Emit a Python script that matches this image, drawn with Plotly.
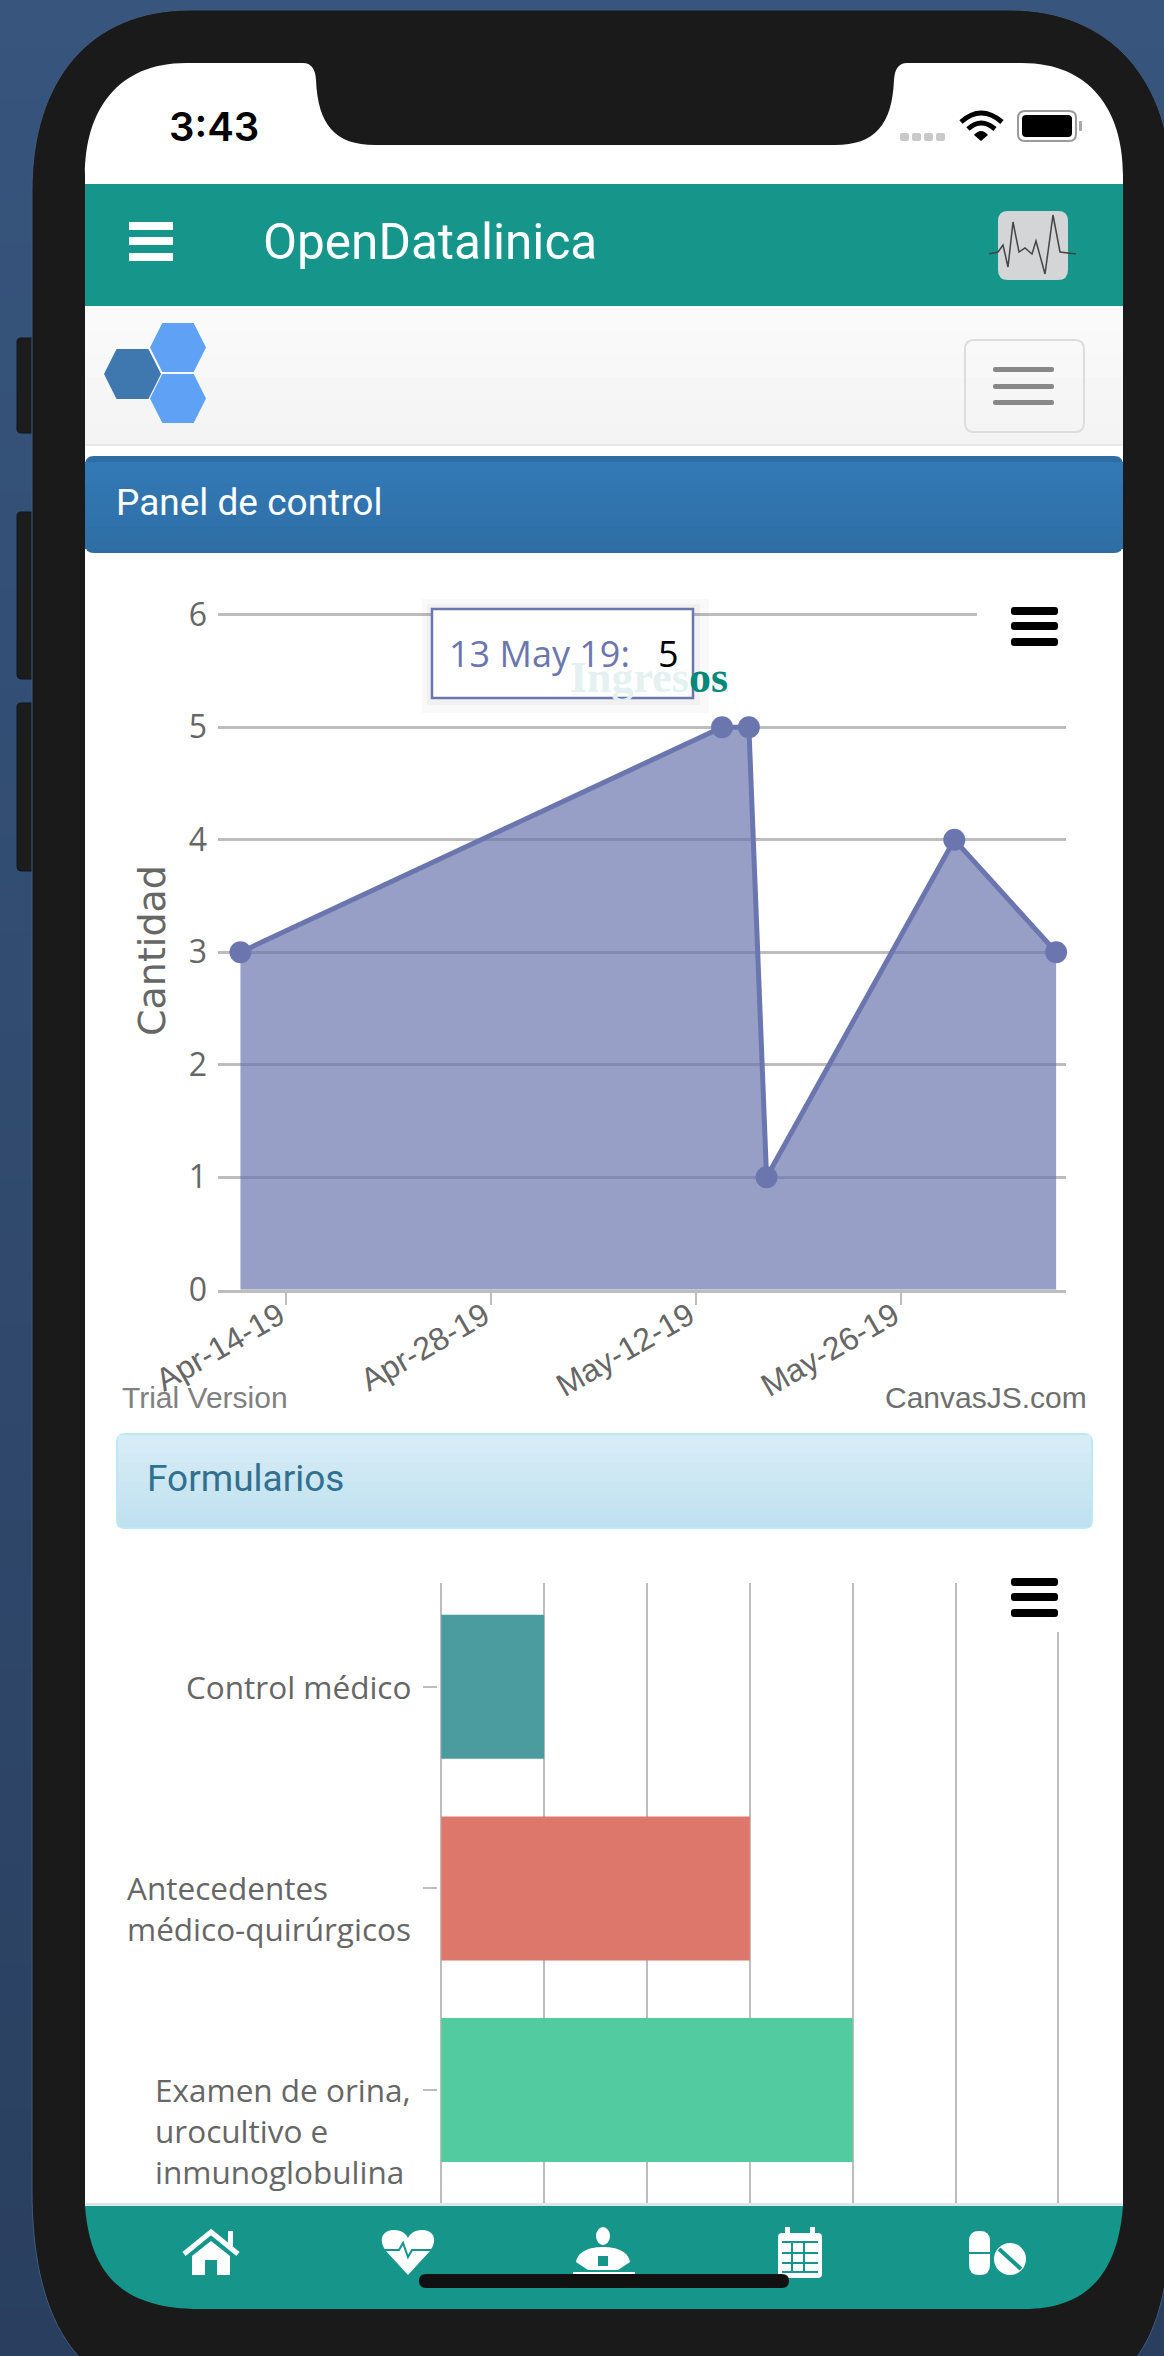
import re
import plotly.graph_objects as go

W, H = 1164, 2356

# ---------- data ----------
admit_dates = ["2019-04-10 21:00", "2019-05-13 19:00", "2019-05-15 15:00",
               "2019-05-16 20:00", "2019-05-29 16:00", "2019-06-05 15:00"]
admit_counts = [3, 5, 5, 1, 4, 3]
date_tick_vals = ["2019-04-14", "2019-04-28", "2019-05-12", "2019-05-26"]
date_tick_text = ["Apr-14-19", "Apr-28-19", "May-12-19", "May-26-19"]
count_ticks = [0, 1, 2, 3, 4, 5, 6]
form_names = ["Control médico", "Antecedentes médico-quirúrgicos",
              "Examen de orina, urocultivo e inmunoglobulina"]
form_labels = ["Control médico", "Antecedentes<br>médico-quirúrgicos",
               "Examen de orina,<br>urocultivo e<br>inmunoglobulina"]
form_counts = [1, 3, 4]
form_colors = ["#4A9C9F", "#DE776B", "#52CBA0"]
form_ticks = [0, 1, 2, 3, 4, 5, 6]

# ---------- pixel helpers ----------
def fx(v): return v / W
def fy(v): return 1 - v / H

def pp(s):
    out, i = [], 0
    for t in s.split():
        if re.fullmatch(r"[A-Za-z]", t):
            out.append(t); i = 0
        else:
            out.append(f"{fx(float(t)) if i % 2 == 0 else fy(float(t)):.6f}"); i += 1
    return " ".join(out)

shapes, notes = [], []

def path(s, fill=None, line=None, lw=0, layer="above"):
    shapes.append(dict(type="path", xref="paper", yref="paper", path=pp(s), layer=layer,
                       fillcolor=fill or "rgba(0,0,0,0)",
                       line=dict(color=line or "rgba(0,0,0,0)", width=lw)))

def rect(x0, y0, x1, y1, fill, line=None, lw=0, layer="above", kind="rect"):
    shapes.append(dict(type=kind, xref="paper", yref="paper", x0=fx(x0), x1=fx(x1), y0=fy(y1), y1=fy(y0),
                       layer=layer, fillcolor=fill,
                       line=dict(color=line or "rgba(0,0,0,0)", width=lw)))

def rrect(x0, y0, x1, y1, r, fill, line=None, lw=0, layer="above"):
    path(f"M {x0+r} {y0} L {x1-r} {y0} Q {x1} {y0} {x1} {y0+r} L {x1} {y1-r} Q {x1} {y1} {x1-r} {y1} "
         f"L {x0+r} {y1} Q {x0} {y1} {x0} {y1-r} L {x0} {y0+r} Q {x0} {y0} {x0+r} {y0} Z",
         fill, line, lw, layer)

def lerp(c0, c1, t):
    a = [int(c0[i:i+2], 16) for i in (1, 3, 5)]
    b = [int(c1[i:i+2], 16) for i in (1, 3, 5)]
    return "#" + "".join(f"{round(p+(q-p)*t):02X}" for p, q in zip(a, b))

def vgrad(x0, y0, x1, y1, c0, c1, n=10, layer="above"):
    for i in range(n):
        a = y0 + (y1 - y0) * i / n
        b = y0 + (y1 - y0) * (i + 1) / n + 1.5
        rect(x0, a, x1, min(b, y1), lerp(c0, c1, (i + .5) / n), layer=layer)

def text(x, y, s, size, color, family="Roboto", xa="left", ya="middle", weight=None, angle=0, align="left"):
    f = dict(size=size, color=color, family=family)
    if weight: f["weight"] = weight
    notes.append(dict(xref="paper", yref="paper", x=fx(x), y=fy(y), text=s, showarrow=False,
                      xanchor=xa, yanchor=ya, font=f, textangle=angle, align=align,
                      borderpad=0, borderwidth=0))

def hexagon(x0, x1, y0, y1, fill):
    d = (x1 - x0) * .22
    m = (y0 + y1) / 2
    path(f"M {x0} {m} L {x0+d} {y0} L {x1-d} {y0} L {x1} {m} L {x1-d} {y1} L {x0+d} {y1} Z", fill, layer="below")

def bars(x0, x1, ys, h, color, r=2):
    for y in ys:
        rrect(x0, y, x1, y + h, r, color)

# ---------- device + page (below the plots) ----------
vgrad(0, 0, W, H, "#37557D", "#2A3F5F", n=48, layer="below")
for a, b in [(338, 433), (512, 679), (703, 871)]:
    rrect(17, a, 40, b, 4, "#1C1C1C", "#101820", 1, layer="below")
path("M 190 10 L 1010 10 C 1110 10 1172 80 1172 190 L 1172 2190 C 1172 2310 1150 2400 1040 2400 "
     "L 190 2400 C 70 2400 32 2310 32 2190 L 32 190 C 32 80 90 10 190 10 Z", "#1A1A1A", "#3F5A7C", 1, layer="below")
path("M 186 63 L 303 63 Q 315 63 316 80 C 318 125 335 145 375 145 L 835 145 C 875 145 892 125 894 80 "
     "Q 895 63 907 63 L 1022 63 C 1090 63 1123 110 1123 175 L 1123 2206 L 85 2206 L 85 175 C 85 110 118 63 186 63 Z",
     "#FFFFFF", layer="below")
rect(85, 184, 1123, 306, "#16958A", layer="below")
vgrad(85, 308, 1123, 446, "#FBFBFB", "#F3F3F3", n=6, layer="below")
rect(85, 444, 1123, 446, "#E7E7E7", layer="below")
rrect(85, 456, 1123, 553, 9, "#2E6DA4", layer="below")
vgrad(85, 462, 1123, 549, "#337AB7", "#2F6EA5", n=8, layer="below")

# status bar
for x in (900, 912, 924, 936):
    rrect(x, 133, x + 9, 141, 2, "#C9C9C9", layer="below")
path("M 961 122 Q 981 104 1002 122", None, "#000000", 5, layer="below")
path("M 968 129 Q 981 117 995 129", None, "#000000", 5, layer="below")
path("M 974 135 L 981 141 L 988 135 Q 981 127 974 135 Z", "#000000", layer="below")
rrect(1018, 111, 1076, 141, 7, "#FFFFFF", "#9A9A9A", 2, layer="below")
rrect(1022, 115, 1072, 137, 4, "#000000", layer="below")
rrect(1079, 121, 1082, 131, 1, "#A8A8A8", layer="below")
text(169, 127, "3:43", 40, "#000000", "Inter", weight=600)

# app bar
for y in (222, 237, 253):
    rect(129, y, 173, y + 8, "#FFFFFF", layer="below")
text(263, 242, "OpenDatalinica", 49.5, "#FFFFFF")
rrect(998, 211, 1068, 280, 10, "#D4D5D7", layer="below")
path("M 989 254 L 998 252 L 1003 245 L 1008 267 L 1013 222 L 1019 252 L 1025 248 L 1032 254 L 1036 241 "
     "L 1045 274 L 1053 215 L 1060 252 L 1076 254", None, "#444444", 1.5, layer="below")

# brand bar
hexagon(104, 161, 349, 399, "#3F78AE")
hexagon(150, 206, 323, 372, "#5FA2F5")
hexagon(150, 206, 374, 423, "#5FA2F5")
rrect(965, 340, 1084, 432, 9, "rgba(0,0,0,0)", "#DDDDDD", 2, layer="below")
bars(993, 1054, [367, 384, 400], 5, "#888888")
text(116, 502, "Panel de control", 37, "#FFFFFF")

# Formularios banner
rrect(116, 1433, 1093, 1529, 9, "#BCE8F1", layer="below")
vgrad(118, 1435, 1091, 1527, "#D9EDF7", "#BFE0EF", n=10, layer="below")
text(147, 1478, "Formularios", 37, "#31708F")

# ---------- chart overlays ----------
rect(977, 596, 1070, 650, "#FFFFFF")
bars(1011, 1058, [607, 622, 638], 8, "#000000", r=3)
rect(977, 1570, 1070, 1632, "#FFFFFF")
bars(1011, 1058, [1578, 1593, 1609], 8, "#000000", r=3)

# tooltip
rect(422, 599, 709, 713, "rgba(0,0,0,0.025)")
rect(427, 604, 700, 705, "rgba(0,0,0,0.03)")
rect(432, 609, 693, 698, "rgba(255,255,255,1)", "#6B76AE", 2.5)
text(449, 653, '13 May 19:&nbsp;&nbsp;&nbsp;<span style="color:#000000">5</span>', 36, "#6B76AE", "Open Sans")

text(122, 1397, "Trial Version", 30, "#808080", "Liberation Sans")
text(1087, 1397, "CanvasJS.com", 30, "#6E6E6E", "Liberation Sans", xa="right")

# category labels of the bar chart: block left-aligned, first line on the tick
for name, label in zip(form_names, form_labels):
    notes.append(dict(xref="paper", yref="y2", x=fx(412), y=name, yshift=23, text=label, showarrow=False,
                      xanchor="right", yanchor="top", align="left", borderpad=0,
                      font=dict(size=31.5, color="#666666", family="Open Sans")))

# footer
rect(85, 2203, 1123, 2207, "#DDE5E4")
path("M 85 2206 L 1123 2206 C 1118 2270 1090 2309 1024 2309 L 200 2309 C 118 2309 90 2270 85 2206 Z", "#16958A")
# home
path("M 184 2254 L 211 2232 L 238 2254", None, "#FFFFFF", 5)
rect(228, 2231, 233, 2246, "#FFFFFF")
path("M 192 2256 L 211 2241 L 230 2256 L 230 2275 L 217 2275 L 217 2260 L 205 2260 L 205 2275 L 192 2275 Z", "#FFFFFF")
# heart
path("M 408 2275 L 386 2251 C 378 2240 382 2230 394 2230 C 402 2230 406 2234 408 2238 "
     "C 410 2234 414 2230 422 2230 C 434 2230 438 2240 430 2251 Z", "#FFFFFF")
path("M 382 2250 L 399 2250 L 403 2243 L 408 2257 L 412 2250 L 434 2250", None, "#16958A", 2)
# doctor
rect(596, 2227, 610, 2245, "#FFFFFF", kind="circle")
path("M 576 2262 C 578 2250 592 2247 603 2247 C 614 2247 628 2250 630 2262 L 618 2270 L 588 2270 Z", "#FFFFFF")
rect(598, 2256, 608, 2266, "#16958A")
rect(573, 2272, 635, 2275, "#FFFFFF")
# calendar
rrect(778, 2233, 822, 2278, 4, "#FFFFFF")
rect(785, 2227, 790, 2236, "#FFFFFF")
rect(810, 2227, 815, 2236, "#FFFFFF")
for y in (2241, 2252, 2262, 2271):
    rect(782, y, 818, y + 2, "#16958A")
for x in (791, 803):
    rect(x, 2241, x + 2, 2273, "#16958A")
# pills
rrect(969, 2231, 990, 2275, 10, "#FFFFFF")
rect(969, 2252, 990, 2254, "#16958A")
rect(994, 2243, 1026, 2275, "#FFFFFF", kind="circle")
path("M 999 2249 L 1021 2269", None, "#16958A", 4)
# home indicator
rrect(419, 2274, 789, 2288, 7, "#111111")

# ---------- figure ----------
fig = go.Figure()
fig.add_trace(go.Scatter(x=admit_dates, y=admit_counts, mode="lines+markers", fill="tozeroy",
                         fillcolor="rgba(107,118,174,0.7)",
                         line=dict(color="#6B76AE", width=5),
                         marker=dict(color="#6B76AE", size=22),
                         xaxis="x", yaxis="y", showlegend=False, cliponaxis=False))
fig.add_trace(go.Bar(x=form_counts, y=form_names, orientation="h", width=0.714,
                     marker=dict(color=form_colors, line=dict(width=0)),
                     xaxis="x2", yaxis="y2", showlegend=False))

GRID = "#BDBDBD"
fig.update_layout(
    template="none",
    width=W, height=H, autosize=False,
    margin=dict(l=0, r=0, t=0, b=0, pad=0),
    paper_bgcolor="#FFFFFF", plot_bgcolor="rgba(0,0,0,0)",
    hovermode=False, shapes=shapes, annotations=notes,
    title=dict(text='<span style="color:#E4F1F0">Ingres</span>os',
               x=fx(649), xanchor="center", xref="paper",
               y=fy(677), yanchor="middle", yref="paper",
               font=dict(family="Liberation Serif", size=44, color="#00897B", weight=700)),
    xaxis=dict(domain=[fx(218), fx(1066)], anchor="y", type="date", automargin=False,
               range=["2019-04-09 08:10", "2019-06-06 07:12"],
               tickmode="array", tickvals=date_tick_vals, ticktext=date_tick_text,
               tickangle=-30, ticks="outside", ticklen=12, tickwidth=2, tickcolor=GRID,
               ticklabelstandoff=-20, ticklabelshift=-7,
               tickfont=dict(family="Liberation Sans", size=32, color="#666666"),
               showgrid=False, showline=True, linecolor=GRID, linewidth=3, zeroline=False),
    yaxis=dict(domain=[fy(1289.7), fy(611.3)], anchor="x", range=[0, 6.03], automargin=False,
               tickmode="array", tickvals=count_ticks, ticks="",
               ticklabelstandoff=10,
               tickfont=dict(family="Open Sans", size=32, color="#666666"),
               showgrid=True, gridcolor=GRID, gridwidth=2.5, zeroline=False, showline=False,
               title=dict(text="Cantidad", standoff=11,
                          font=dict(family="DejaVu Sans", size=38, color="#666666"))),
    xaxis2=dict(domain=[fx(438.2), fx(1061.5)], anchor="y2", range=[-0.03, 6.03], automargin=False,
                tickmode="array", tickvals=form_ticks, showticklabels=False, ticks="",
                showgrid=True, gridcolor=GRID, gridwidth=2, zeroline=False, showline=False),
    yaxis2=dict(domain=[fy(2204), fy(1583)], anchor="x2", type="category", automargin=False,
                categoryorder="array", categoryarray=form_names, range=[2.565, -0.515],
                showticklabels=False, ticks="outside", ticklen=14, tickwidth=2, tickcolor=GRID,
                showgrid=False, zeroline=False, showline=False),
)

fig.write_html("out.html", config=dict(displayModeBar=False, responsive=False),
               post_script="document.body.style.margin='0';document.body.style.overflow='hidden';")
